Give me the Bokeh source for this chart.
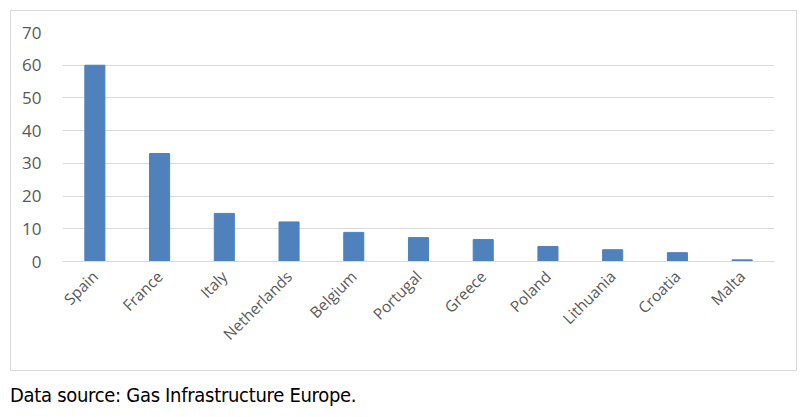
import math
from bokeh.plotting import figure
from bokeh.models import Div, ColumnDataSource
from bokeh.layouts import column
from bokeh.embed import file_html
from bokeh.resources import INLINE

countries = ["Spain", "France", "Italy", "Netherlands", "Belgium", "Portugal",
             "Greece", "Poland", "Lithuania", "Croatia", "Malta"]
values = [60, 33, 14.7, 12.1, 8.9, 7.3, 6.7, 4.6, 3.6, 2.7, 0.5]
y_ticks = [0, 10, 20, 30, 40, 50, 60, 70]
caption_text = "Data source: Gas Infrastructure Europe."

src = ColumnDataSource(dict(x=countries, top=values))

p = figure(x_range=countries, y_range=(0, 70), width=787, height=361,
           output_backend="svg", toolbar_location=None,
           min_border_left=51, min_border_right=24, min_border_top=21,
           min_border_bottom=111)
p.margin = (10, 0, 0, 10)
p.styles = {"border": "1px solid #d9d9d9", "box-sizing": "border-box"}
p.outline_line_color = None
p.background_fill_color = "white"
p.border_fill_color = "white"

p.vbar(x="x", top="top", width=0.31, source=src, fill_color="#4f81bd",
       line_color="#4f81bd")

p.xgrid.grid_line_color = None
p.ygrid.grid_line_color = "#d9d9d9"
p.ygrid.grid_line_width = 1
p.yaxis.ticker = y_ticks
p.yaxis.axis_line_color = None
p.yaxis.major_tick_line_color = None
p.yaxis.minor_tick_line_color = None
p.yaxis.major_label_text_font = "Open Sans"
p.yaxis.major_label_text_font_size = "17px"
p.yaxis.major_label_text_color = "#595959"
p.yaxis.major_label_standoff = 15

p.xaxis.axis_line_color = "#d9d9d9"
p.xaxis.axis_line_width = 1
p.xaxis.major_tick_line_color = None
p.xaxis.major_label_orientation = math.pi / 4
p.xaxis.major_label_text_font = "Open Sans"
p.xaxis.major_label_text_font_size = "15.5px"
p.xaxis.major_label_text_color = "#595959"
p.xaxis.major_label_standoff = 6

cap = Div(text=caption_text, margin=(10, 0, 0, 10),
          styles={"font-family": "'DejaVu Sans Condensed', 'Roboto', sans-serif",
                  "font-stretch": "condensed", "font-size": "20px",
                  "letter-spacing": "-0.3px", "color": "#000000"})

layout = column(p, cap)
open("out.html", "w").write(file_html(layout, INLINE))
